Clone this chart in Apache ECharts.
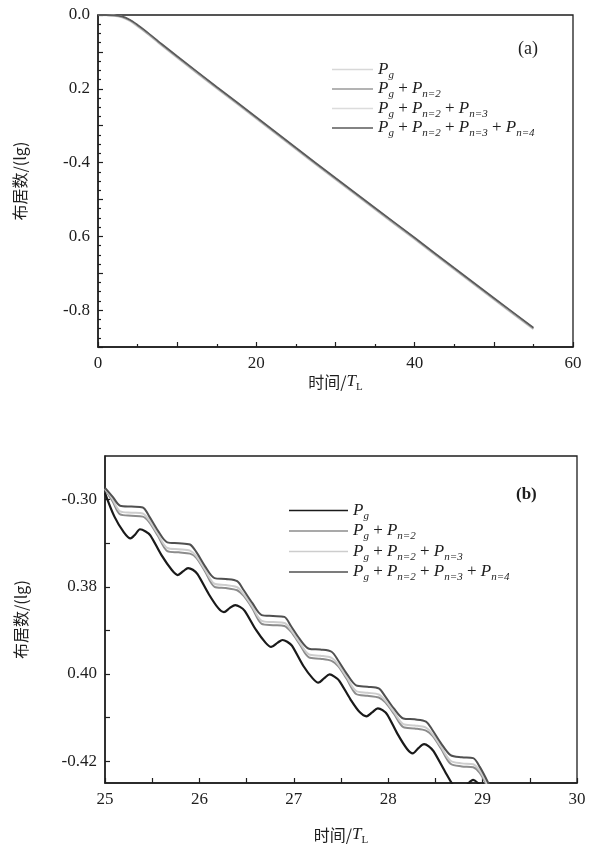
<!DOCTYPE html>
<html><head><meta charset="utf-8">
<script src="https://cdn.jsdelivr.net/npm/echarts@6/dist/echarts.min.js"></script>
<style>html,body{margin:0;padding:0;background:#fff}#c{width:598px;height:847px}</style>
</head><body><div id="c"></div>
<script>
// ---------- Panel (a) data ----------
const timeA = [0, 1, 2, 3, 4, 5, 6, 8, 10, 15, 20, 25, 30, 35, 40, 45, 50, 55];
const pgA   = [0, -0.001, -0.002, -0.006, -0.016, -0.031, -0.047, -0.082, -0.116, -0.199, -0.281, -0.364, -0.446, -0.527, -0.608, -0.690, -0.771, -0.852];
const n2A   = [0, 0, -0.001, -0.005, -0.014, -0.029, -0.045, -0.080, -0.114, -0.197, -0.279, -0.362, -0.444, -0.525, -0.606, -0.688, -0.769, -0.850];
const n3A   = [0, 0, -0.001, -0.004, -0.013, -0.028, -0.044, -0.079, -0.113, -0.196, -0.278, -0.361, -0.443, -0.524, -0.605, -0.687, -0.768, -0.849];
const n4A   = [0, 0, -0.001, -0.004, -0.013, -0.027, -0.043, -0.078, -0.112, -0.195, -0.277, -0.360, -0.442, -0.523, -0.604, -0.686, -0.767, -0.848];
const xLabelsA = ['0', '20', '40', '60'];
const yLabelsA = ['0.0', '0.2', '-0.4', '0.6', '-0.8'];

// ---------- Panel (b) data ----------
const timePgB = [25.00, 25.10, 25.20, 25.27, 25.32, 25.37, 25.43, 25.48, 25.60, 25.71, 25.77, 25.83, 25.88, 25.93, 25.98,
  26.10, 26.20, 26.26, 26.32, 26.38, 26.43, 26.48, 26.60, 26.70, 26.76, 26.83, 26.88, 26.93, 26.98,
  27.10, 27.20, 27.26, 27.32, 27.38, 27.43, 27.48, 27.60, 27.70, 27.77, 27.83, 27.89, 27.94, 27.99,
  28.10, 28.20, 28.26, 28.32, 28.38, 28.43, 28.48, 28.60, 28.70, 28.76, 28.83, 28.90, 28.95, 29.00];
const pgB = [-0.3585, -0.3639, -0.3675, -0.3689, -0.3680, -0.3668, -0.3673, -0.3682, -0.3728, -0.3762, -0.3773, -0.3764, -0.3757, -0.3761, -0.3771,
  -0.3817, -0.3849, -0.3858, -0.3849, -0.3842, -0.3846, -0.3855, -0.3899, -0.3928, -0.3938, -0.3928, -0.3922, -0.3926, -0.3935,
  -0.3981, -0.4010, -0.4020, -0.4010, -0.4001, -0.4006, -0.4015, -0.4058, -0.4088, -0.4097, -0.4088, -0.4079, -0.4083, -0.4093,
  -0.4138, -0.4172, -0.4182, -0.4170, -0.4161, -0.4166, -0.4177, -0.4223, -0.4259, -0.4268, -0.4255, -0.4243, -0.4250, -0.4261];

const timeB = [25.00, 25.08, 25.16, 25.28, 25.40, 25.47, 25.56, 25.66, 25.78, 25.90, 25.97, 26.06, 26.16, 26.28, 26.40,
  26.47, 26.56, 26.66, 26.78, 26.90, 26.97, 27.06, 27.16, 27.28, 27.40, 27.47, 27.56, 27.66, 27.78, 27.90,
  27.97, 28.06, 28.16, 28.28, 28.40, 28.47, 28.56, 28.66, 28.78, 28.90, 28.97, 29.06, 29.12];
const n2B = [-0.3577, -0.3604, -0.3634, -0.3637, -0.3639, -0.3652, -0.3683, -0.3718, -0.3721, -0.3724, -0.3734, -0.3765, -0.3800, -0.3803, -0.3808,
  -0.3821, -0.3849, -0.3885, -0.3888, -0.3890, -0.3903, -0.3931, -0.3962, -0.3965, -0.3970, -0.3982, -0.4011, -0.4046, -0.4050, -0.4054,
  -0.4065, -0.4091, -0.4122, -0.4125, -0.4130, -0.4142, -0.4171, -0.4206, -0.4212, -0.4214, -0.4227, -0.4263, -0.4295];
const n3B = [-0.3575, -0.3599, -0.3627, -0.3630, -0.3632, -0.3648, -0.3679, -0.3711, -0.3714, -0.3717, -0.3730, -0.3761, -0.3793, -0.3796, -0.3801,
  -0.3817, -0.3845, -0.3878, -0.3881, -0.3883, -0.3899, -0.3927, -0.3955, -0.3958, -0.3963, -0.3978, -0.4007, -0.4039, -0.4043, -0.4047,
  -0.4061, -0.4087, -0.4115, -0.4118, -0.4123, -0.4138, -0.4167, -0.4199, -0.4205, -0.4207, -0.4222, -0.4258, -0.4290];
const n4B = [-0.3573, -0.3593, -0.3614, -0.3616, -0.3618, -0.3639, -0.3671, -0.3698, -0.3700, -0.3703, -0.3721, -0.3753, -0.3780, -0.3782, -0.3787,
  -0.3808, -0.3837, -0.3865, -0.3867, -0.3869, -0.3890, -0.3919, -0.3942, -0.3944, -0.3949, -0.3969, -0.3999, -0.4026, -0.4029, -0.4033,
  -0.4052, -0.4079, -0.4102, -0.4104, -0.4109, -0.4129, -0.4159, -0.4186, -0.4191, -0.4193, -0.4213, -0.4250, -0.4280];
const xLabelsB = ['25', '26', '27', '28', '29', '30'];
const yLabelValsB = [-0.36, -0.38, -0.40, -0.42];
const yLabelsB = ['-0.30', '0.38', '0.40', '-0.42'];
const yTickValsB = [-0.36, -0.37, -0.38, -0.39, -0.40, -0.41, -0.42];

// legend labels (rich text)
const legendRich = [
  '{p|P}{s|g}',
  '{p|P}{s|g}{t| + }{p|P}{s|n=2}',
  '{p|P}{s|g}{t| + }{p|P}{s|n=2}{t| + }{p|P}{s|n=3}',
  '{p|P}{s|g}{t| + }{p|P}{s|n=2}{t| + }{p|P}{s|n=3}{t| + }{p|P}{s|n=4}'
];
const namesA = ['(a) Pg', '(a) Pg+Pn=2', '(a) Pg+Pn=2+Pn=3', '(a) Pg+Pn=2+Pn=3+Pn=4'];
const namesB = ['(b) Pg', '(b) Pg+Pn=2', '(b) Pg+Pn=2+Pn=3', '(b) Pg+Pn=2+Pn=3+Pn=4'];

const SERIF = '"Liberation Serif","DejaVu Serif",serif';
const CJK = '"Noto Sans CJK SC","Noto Sans",sans-serif';
const ink = '#1e1e1e';

const richText = {
  p: {fontFamily: SERIF, fontStyle: 'italic', fontSize: 17, color: ink, lineHeight: 22},
  s: {fontFamily: SERIF, fontStyle: 'italic', fontSize: 11, color: ink, verticalAlign: 'bottom', lineHeight: 13},
  t: {fontFamily: SERIF, fontSize: 17, color: ink, lineHeight: 22}
};
const nameRich = {
  c: {fontFamily: CJK, fontSize: 16, color: ink, lineHeight: 22},
  i: {fontFamily: SERIF, fontStyle: 'italic', fontSize: 17, color: ink, lineHeight: 22},
  s: {fontFamily: SERIF, fontSize: 11, color: ink, verticalAlign: 'bottom', lineHeight: 13}
};

function zip(xs, ys) { return xs.map((x, i) => [x, ys[i]]); }

const axisLine = {show: true, onZero: false, lineStyle: {color: ink, width: 1.5}};
const tickStyle = {color: ink, width: 1.2};
const labelStyle = {fontFamily: SERIF, fontSize: 17, color: ink};

const option = {
  animation: false,
  backgroundColor: '#fff',
  grid: [
    {left: 98, top: 15, width: 475, height: 332, show: true, borderColor: ink, borderWidth: 1.3, containLabel: false},
    {left: 105, top: 456, width: 472, height: 327, show: true, borderColor: ink, borderWidth: 1.3, containLabel: false}
  ],
  xAxis: [
    {gridIndex: 0, type: 'value', min: 0, max: 60, interval: 10,
     axisLine, splitLine: {show: false},
     axisTick: {inside: true, length: 5, lineStyle: tickStyle},
     minorTick: {show: true, splitNumber: 2, length: 3, lineStyle: tickStyle},
     axisLabel: Object.assign({margin: 8, formatter: v => (Math.round(v) % 20 === 0 ? xLabelsA[Math.round(v) / 20] : '')}, labelStyle),
     name: '{c|时间/}{i|T}{s|L}', nameLocation: 'middle', nameGap: 24, nameTextStyle: {rich: nameRich}},
    {gridIndex: 1, type: 'value', min: 25, max: 30, interval: 1,
     axisLine, splitLine: {show: false},
     axisTick: {inside: true, length: 5, lineStyle: tickStyle},
     minorTick: {show: true, splitNumber: 2, length: 5, lineStyle: tickStyle},
     axisLabel: Object.assign({margin: 8, formatter: v => xLabelsB[Math.round(v) - 25]}, labelStyle),
     name: '{c|时间/}{i|T}{s|L}', nameLocation: 'middle', nameGap: 41, nameTextStyle: {rich: nameRich}}
  ],
  yAxis: [
    {gridIndex: 0, type: 'value', min: -0.9, max: 0, interval: 0.1,
     axisLine, splitLine: {show: false},
     axisTick: {inside: true, length: 5, lineStyle: tickStyle},
     minorTick: {show: true, splitNumber: 4, length: 3, lineStyle: tickStyle},
     axisLabel: Object.assign({margin: 8, formatter: v => { const k = Math.round(-v * 10); return k % 2 ? '' : yLabelsA[k / 2]; }}, labelStyle),
     name: '布居数/(lg)', nameLocation: 'middle', nameGap: 70, nameTextStyle: {fontFamily: CJK, fontSize: 16, color: ink}},
    {gridIndex: 1, type: 'value', min: -0.425, max: -0.35,
     axisLine, splitLine: {show: false},
     axisTick: {inside: true, length: 5, lineStyle: tickStyle, customValues: yTickValsB},
     axisLabel: Object.assign({margin: 8, customValues: yLabelValsB,
       formatter: v => { let best = 0; yLabelValsB.forEach((c, i) => { if (Math.abs(c - v) < Math.abs(yLabelValsB[best] - v)) best = i; }); return yLabelsB[best]; }}, labelStyle),
     name: '布居数/(lg)', nameLocation: 'middle', nameGap: 76, nameTextStyle: {fontFamily: CJK, fontSize: 16, color: ink}}
  ],
  legend: [
    {data: namesA, orient: 'vertical', left: 327, top: 56, itemWidth: 41, itemHeight: 1.5, itemGap: 0, icon: 'rect',
     formatter: n => legendRich[namesA.indexOf(n)], textStyle: {rich: richText}, selectedMode: false},
    {data: namesB, orient: 'vertical', left: 284, top: 497, itemWidth: 59, itemHeight: 1.5, itemGap: 1, icon: 'rect',
     formatter: n => legendRich[namesB.indexOf(n)], textStyle: {rich: richText}, selectedMode: false}
  ],
  graphic: [
    {type: 'text', left: 518, top: 40, style: {text: '(a)', font: '18px ' + SERIF, fill: ink}},
    {type: 'text', left: 516, top: 486, style: {text: '(b)', font: 'bold 17px ' + SERIF, fill: ink}}
  ],
  series: [
    {name: namesA[0], type: 'line', xAxisIndex: 0, yAxisIndex: 0, data: zip(timeA, pgA), showSymbol: false, smooth: 0.3, color: '#d8d8d8', lineStyle: {width: 2}},
    {name: namesA[1], type: 'line', xAxisIndex: 0, yAxisIndex: 0, data: zip(timeA, n2A), showSymbol: false, smooth: 0.3, color: '#9a9a9a', lineStyle: {width: 2}},
    {name: namesA[2], type: 'line', xAxisIndex: 0, yAxisIndex: 0, data: zip(timeA, n3A), showSymbol: false, smooth: 0.3, color: '#dcdcdc', lineStyle: {width: 1.5}},
    {name: namesA[3], type: 'line', xAxisIndex: 0, yAxisIndex: 0, data: zip(timeA, n4A), showSymbol: false, smooth: 0.3, color: '#5a5a5a', lineStyle: {width: 1.8}},
    {name: namesB[0], type: 'line', xAxisIndex: 1, yAxisIndex: 1, data: zip(timePgB, pgB), showSymbol: false, smooth: 0.3, color: '#1a1a1a', lineStyle: {width: 2.2}},
    {name: namesB[1], type: 'line', xAxisIndex: 1, yAxisIndex: 1, data: zip(timeB, n2B), showSymbol: false, smooth: 0.3, color: '#8c8c8c', lineStyle: {width: 2}},
    {name: namesB[2], type: 'line', xAxisIndex: 1, yAxisIndex: 1, data: zip(timeB, n3B), showSymbol: false, smooth: 0.3, color: '#cdcdcd', lineStyle: {width: 2}},
    {name: namesB[3], type: 'line', xAxisIndex: 1, yAxisIndex: 1, data: zip(timeB, n4B), showSymbol: false, smooth: 0.3, color: '#505050', lineStyle: {width: 2}}
  ]
};
const chart = echarts.init(document.getElementById('c'), null, {renderer: 'canvas'});
chart.setOption(option);
</script>
</body></html>
